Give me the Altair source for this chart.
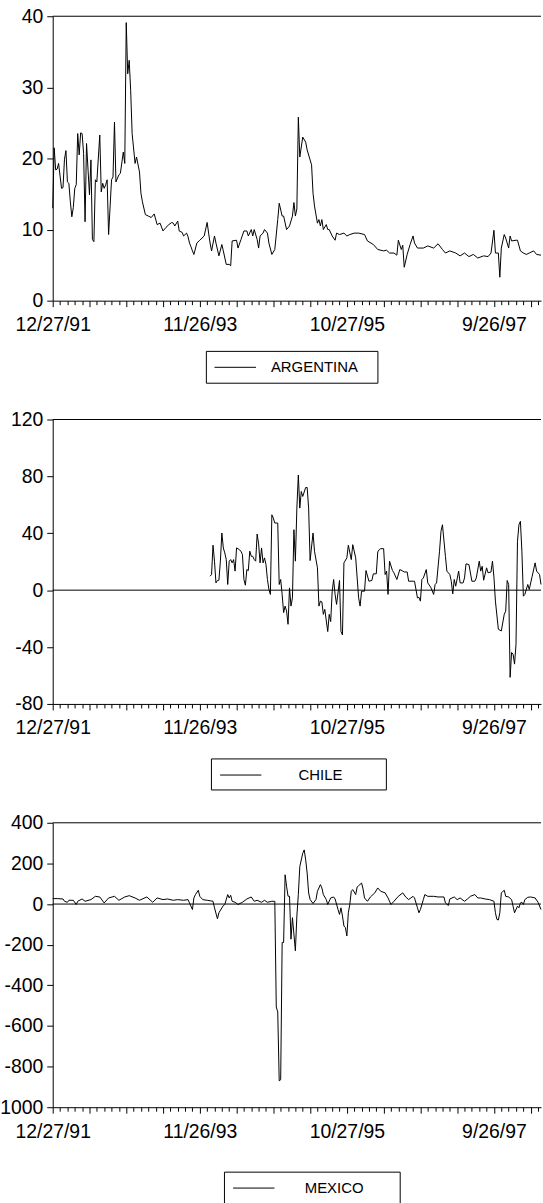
import json
import altair as alt
import pandas as pd

# ---------------- data ----------------
# x = week index counted from 12/27/91 (weekly observations)
arg_weeks = [0, 1, 2, 3, 4, 6, 7, 8, 9, 10, 11, 12, 13, 14, 15, 16, 17, 18, 19, 20,
             21, 22, 23, 25, 26, 27, 28, 29, 30, 32, 33, 34, 35, 36, 37, 38, 40, 41, 42, 43,
             45, 46, 48, 49, 50, 51, 52, 53, 54, 56, 57, 59, 60, 61, 63, 65, 67, 69, 71, 73,
             75, 77, 79, 81, 82, 83, 85, 86, 88, 89, 91, 92, 93, 94, 95, 96, 98, 100, 103, 105,
             106, 107, 108, 110, 111, 113, 115, 116, 118, 120, 121, 122, 125, 126, 128, 130, 132, 133, 135, 136,
             137, 139, 140, 141, 143, 144, 146, 147, 149, 151, 153, 154, 156, 157, 159, 161, 163, 164, 165, 166,
             167, 168, 170, 172, 173, 175, 176, 177, 178, 180, 181, 182, 183, 184, 186, 187, 188, 190, 192, 193,
             195, 198, 200, 202, 205, 208, 212, 214, 218, 221, 225, 227, 229, 232, 234, 235, 237, 238, 239, 241,
             243, 245, 246, 248, 252, 255, 259, 262, 265, 267, 270, 274, 277, 280, 283, 286, 289, 293, 296, 298,
             300, 301, 303, 304, 305, 307, 308, 310, 311, 312, 315, 316, 318, 320, 322, 324, 327, 329, 332]
arg_values = [13.0, 21.5, 18.4, 18.5, 19.3, 15.8, 15.9, 19.9, 21.1, 16.7, 16.5, 13.9, 11.8, 13.1, 15.8, 16.3, 23.5, 20.5, 23.6, 23.5,
              20.7, 11.1, 22.1, 14.9, 19.8, 8.6, 8.3, 17.0, 16.7, 23.3, 15.3, 16.5, 15.8, 16.3, 17.0, 9.3, 17.0, 17.4, 25.1, 16.7,
              17.7, 17.9, 20.9, 19.3, 39.1, 31.9, 33.8, 29.6, 23.5, 19.3, 20.2, 18.1, 15.1, 13.9, 12.1, 11.9, 11.7, 12.2, 10.7, 10.9,
              9.8, 10.3, 10.7, 11.0, 10.9, 10.5, 11.2, 9.8, 9.6, 9.1, 9.5, 9.0, 8.1, 7.6, 7.0, 6.5, 8.1, 8.5, 9.1, 11.0,
              9.5, 8.1, 7.0, 9.1, 8.1, 6.3, 7.9, 7.0, 5.1, 5.1, 4.9, 8.4, 8.5, 7.4, 8.6, 9.8, 9.8, 9.1, 10.0, 9.1,
              10.0, 8.6, 7.4, 9.1, 9.5, 10.0, 9.5, 8.1, 6.5, 7.2, 11.4, 13.7, 11.9, 11.9, 10.0, 10.5, 11.9, 13.8, 11.9, 12.9,
              25.8, 20.2, 23.0, 22.3, 21.2, 19.8, 19.1, 15.1, 13.3, 10.9, 11.4, 10.5, 11.4, 10.0, 10.7, 10.0, 10.0, 9.1, 8.5, 9.5,
              9.3, 9.5, 9.1, 9.3, 9.5, 9.5, 9.3, 8.4, 7.9, 7.2, 7.0, 7.1, 6.7, 6.7, 6.4, 8.5, 7.2, 7.8, 4.7, 6.5,
              7.9, 9.1, 8.1, 7.4, 7.4, 7.7, 7.4, 8.0, 7.2, 6.7, 7.0, 6.7, 6.3, 6.7, 6.2, 6.5, 6.0, 6.3, 6.2, 6.7,
              9.9, 6.7, 6.7, 3.3, 7.4, 9.3, 8.8, 7.4, 9.1, 8.4, 8.5, 8.5, 7.0, 6.7, 6.5, 6.7, 7.0, 6.5, 6.4]

chl_weeks = [107, 108, 109, 110, 111, 112, 113, 114, 115, 116, 117, 118, 119, 120, 121, 122, 123, 124, 125, 126,
             128, 129, 130, 131, 132, 133, 134, 135, 136, 137, 138, 139, 140, 141, 142, 143, 144, 145, 146, 147,
             148, 149, 150, 151, 153, 154, 155, 156, 157, 158, 159, 160, 161, 162, 163, 164, 165, 166, 167, 168,
             169, 170, 172, 173, 174, 175, 177, 178, 180, 181, 182, 183, 184, 185, 187, 188, 189, 190, 191, 192,
             193, 195, 196, 197, 198, 200, 201, 203, 204, 206, 207, 208, 209, 210, 212, 213, 215, 217, 218, 220,
             221, 222, 223, 225, 226, 227, 228, 229, 231, 232, 234, 236, 238, 239, 241, 242, 245, 246, 248, 249,
             250, 251, 252, 254, 255, 257, 259, 260, 261, 263, 264, 265, 267, 268, 270, 271, 272, 273, 274, 276,
             277, 279, 280, 281, 283, 285, 287, 288, 290, 291, 292, 293, 295, 296, 298, 299, 300, 301, 303, 305,
             307, 308, 309, 310, 311, 312, 313, 314, 315, 316, 317, 318, 319, 320, 321, 323, 324, 326, 328, 329,
             331, 332]
chl_values = [9.8, 11.0, 31.6, 20.4, 5.1, 6.8, 7.0, 20.4, 40.2, 29.7, 26.2, 21.5, 4.0, 20.4, 21.5, 19.2, 21.5, 13.4, 29.7, 29.2,
              27.4, 25.0, 7.5, 3.5, 14.5, 13.8, 27.4, 23.8, 23.8, 21.5, 20.4, 39.5, 32.5, 19.2, 29.7, 19.2, 22.7, 18.0, 7.5, 0.5,
              -3.0, 53.0, 50.7, 47.2, 47.2, 4.0, 7.5, -3.0, -15.8, -11.2, -14.7, -24.0, 1.6, -11.2, -5.4, 42.5, 20.4, 57.7, 81.0, 57.7,
              69.4, 65.9, 72.2, 72.2, 57.7, 20.8, 40.2, 27.4, 15.7, -11.2, -7.7, -8.2, -17.0, -13.5, -29.1, -17.0, -22.1, -1.2, 7.5, -3.0,
              -10.0, 6.8, -29.1, -31.5, 19.2, 22.7, 31.6, 21.5, 32.0, 22.7, 8.6, -5.4, -11.2, -0.7, -0.7, 13.8, 6.3, 6.8, 11.5, 11.5,
              26.9, 28.5, 29.2, 29.2, 11.0, 13.4, -3.0, 20.4, 13.8, 12.2, 7.5, 14.5, 13.4, 12.8, 12.8, 6.3, 6.3, 6.3, -5.4, -5.0,
              -7.7, 7.5, 8.6, 14.5, 5.1, 2.1, -3.0, 4.0, 5.1, 27.4, 41.4, 46.0, 23.8, 13.4, 11.0, 6.3, -2.6, 7.5, 2.8, 13.4,
              5.1, 5.1, 8.6, 18.5, 18.0, 6.3, 6.3, 8.6, 20.4, 13.4, 16.8, 7.0, 15.7, 12.2, 12.8, 20.4, 9.1, -7.7, -27.5, -28.7,
              -17.0, -14.7, 6.8, 4.0, -61.3, -43.8, -45.0, -52.0, -38.0, 34.4, 46.0, 48.4, 27.4, -4.2, -3.0, 4.0, 0.5, 9.8, 19.2, 13.4,
              11.0, 4.0]

mex_weeks = [0, 3, 7, 8, 10, 11, 14, 16, 17, 20, 22, 26, 29, 32, 35, 38, 42, 45, 49, 52,
             56, 59, 64, 68, 71, 75, 78, 82, 85, 89, 92, 93, 95, 96, 97, 99, 100, 102, 105, 109,
             110, 112, 113, 116, 117, 119, 120, 121, 122, 124, 126, 129, 132, 135, 137, 139, 142, 144, 146, 149,
             151, 152, 153, 154, 155, 156, 157, 158, 159, 160, 161, 162, 163, 165, 166, 167, 168, 170, 171, 172,
             173, 174, 175, 177, 179, 180, 182, 183, 184, 186, 187, 189, 191, 192, 194, 195, 196, 197, 198, 199,
             200, 201, 202, 203, 204, 206, 207, 208, 210, 211, 212, 214, 216, 219, 221, 223, 226, 228, 230, 232,
             235, 238, 240, 242, 245, 246, 248, 249, 250, 252, 253, 255, 259, 262, 266, 267, 269, 270, 273, 275,
             277, 280, 282, 284, 287, 289, 291, 294, 297, 300, 301, 302, 303, 304, 305, 307, 308, 310, 312, 313,
             314, 316, 317, 318, 319, 320, 321, 323, 325, 328, 330, 332]
mex_values = [26.8, 26.8, 25.0, 13.6, 8.7, 18.5, 18.5, -2.1, 13.6, 25.0, 13.6, 21.8, 38.0, 34.8, 5.5, 30.0, 38.0, 18.5, 34.8, 41.3,
              30.0, 18.5, 34.8, 8.7, 30.0, 21.8, 25.0, 18.5, 21.8, 18.5, 21.8, 5.5, -27.0, 30.0, 46.0, 67.9, 38.0, 21.8, 18.5, 13.6,
              -18.6, -72.3, -43.0, -7.2, -2.1, 46.7, 30.0, 43.0, 13.6, 8.7, -2.1, 8.7, 25.0, 34.8, 13.6, 18.5, 8.7, 18.5, 8.7, 13.6,
              13.6, -507.0, -531.0, -870.0, -865.0, -189.0, -189.0, 144.0, 87.6, 38.8, 38.0, -173.0, -67.0, -230.0, -59.0, 46.7, 185.0, 250.0, 266.5, 217.7,
              152.5, 54.7, 22.2, 2.7, 22.2, 63.0, 95.6, 79.3, 46.7, 22.2, -2.1, 30.0, 34.8, 25.0, -27.0, -51.0, -18.6, -59.0, -108.0, -116.0,
              -157.0, -43.0, -2.1, 63.0, 71.0, 46.7, 84.0, 90.4, 103.4, 74.4, 30.0, 13.6, 34.8, 55.0, 79.3, 63.0, 55.0, 30.0, -2.1, 13.6,
              38.0, 55.0, 34.8, 21.8, 38.0, 30.0, -18.6, -43.0, -27.0, 21.8, 46.7, 38.0, 38.0, 34.8, 34.8, 5.5, -7.2, 25.0, 34.8, 21.8,
              30.0, 13.6, 25.0, 38.0, 46.7, 30.0, 30.0, 25.0, 21.8, 13.6, -43.0, -75.4, -78.6, -43.0, 55.0, 67.9, 38.0, 34.8, 21.8, -10.4,
              -43.0, -10.4, -18.6, 5.5, 8.7, -2.1, 21.8, 33.2, 34.8, 30.0, 8.7, -27.0]

series_names = ["ARGENTINA", "CHILE", "MEXICO"]
y_domains = [[0, 40], [-80, 120], [-1000, 400]]
y_tick_values = [[0, 10, 20, 30, 40], [-80, -40, 0, 40, 80, 120],
                 [-1000, -800, -600, -400, -200, 0, 200, 400]]
# horizontal reference levels: top frame edge, plus zero line where visible
rule_levels = [[40], [120, 0], [400, 0]]

label_weeks = [0, 100, 200, 300]
date_labels = ["12/27/91", "11/26/93", "10/27/95", "9/26/97"]
tick_weeks = list(range(0, 335, 5))
x_last_week = 332

# ---------------- layout / style ----------------
W, H = 491, 286
FONT = "Liberation Sans"
# legend box geometry, in pixels relative to each panel's plot origin:
# (box x0, box x1, box y0, box y1, sample x0, sample x1, text x, row y)
legend_geom = [
    (154.5, 327.0, 337.0, 369.0, 162.7, 204.4, 219.4, 353.0),
    (159.6, 335.5, 341.3, 372.5, 168.3, 209.8, 247.2, 357.5),
    (172.7, 349.4, 351.3, 383.3, 181.4, 223.0, 253.4, 367.3),
]

lw = json.dumps(label_weeks)
ll = json.dumps(date_labels)
x_label_expr = f"indexof({lw}, datum.value) >= 0 ? {ll}[indexof({lw}, datum.value)] : ''"


def panel(i, weeks, values):
    name = series_names[i]
    df = pd.DataFrame({"week": weeks, "value": values})
    rules = pd.DataFrame({"value": rule_levels[i]})
    leg = pd.DataFrame({"series": [name]})

    x = alt.X("week:Q",
              scale=alt.Scale(domain=[0, x_last_week], nice=False, zero=False),
              axis=alt.Axis(values=tick_weeks, labelExpr=x_label_expr, title=None,
                            grid=False, labelOverlap=False, labelFlush=False, labelBound=False,
                            tickSize={"condition": {"test": "datum.value % 25 === 0", "value": 6}, "value": 4},
                            labelPadding=9, labelFontSize=19.5, labelFont=FONT, labelColor="black",
                            domainColor="black", tickColor="black", domainWidth=1, tickWidth=1))
    y = alt.Y("value:Q",
              scale=alt.Scale(domain=y_domains[i], nice=False, zero=False),
              axis=alt.Axis(values=y_tick_values[i], title=None, grid=False, tickSize=6,
                            labelExpr="'' + datum.value",
                            labelPadding=4, labelFontSize=19.5, labelFont=FONT, labelColor="black",
                            domainColor="black", tickColor="black", labelFlush=False,
                            labelOverlap=False, labelBound=False, domainWidth=1, tickWidth=1))

    line = alt.Chart(df).mark_line(strokeWidth=1, color="black").encode(x=x, y=y)
    frame = alt.Chart(rules).mark_rule(color="black", strokeWidth=1).encode(
        y=y, x=alt.value(0), x2=alt.value(W))

    bx0, bx1, by0, by1, sx0, sx1, tx, ry = legend_geom[i]
    box = alt.Chart(leg).mark_rect(fill="white", stroke="black", strokeWidth=1).encode(
        x=alt.value(bx0), x2=alt.value(bx1), y=alt.value(by0), y2=alt.value(by1))
    sample = alt.Chart(leg).mark_rule(color="black", strokeWidth=1).encode(
        x=alt.value(sx0), x2=alt.value(sx1), y=alt.value(ry))
    label = alt.Chart(leg).mark_text(align="left", baseline="middle", font=FONT,
                                     fontSize=15, color="black").encode(
        x=alt.value(tx), y=alt.value(ry), text="series:N")

    return alt.layer(frame, line, box, sample, label).properties(width=W, height=H)


charts = [panel(0, arg_weeks, arg_values),
          panel(1, chl_weeks, chl_values),
          panel(2, mex_weeks, mex_values)]

chart = (alt.vconcat(*charts, spacing=119.5, bounds="flush")
         .properties(padding={"left": -8, "top": 2, "right": -1, "bottom": -4}, background="white")
         .configure_view(stroke="transparent"))

chart.save("out.html", embed_options={"renderer": "svg", "actions": False})
